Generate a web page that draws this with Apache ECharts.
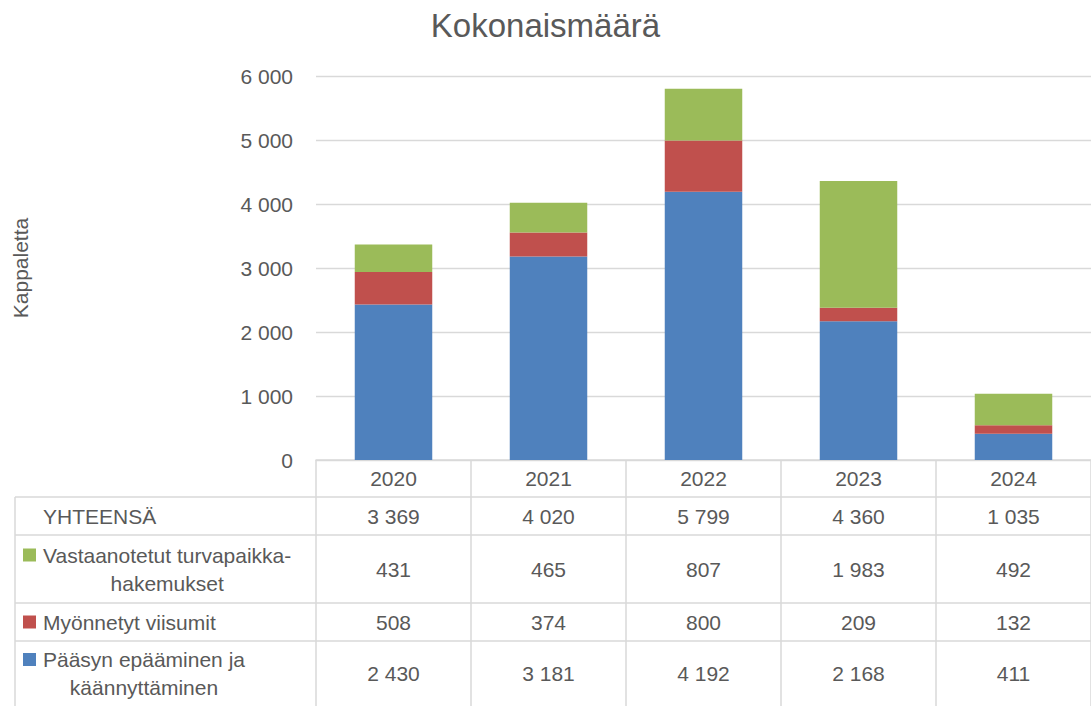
<!DOCTYPE html>
<html>
<head>
<meta charset="utf-8">
<script src="https://cdn.jsdelivr.net/npm/echarts@6/dist/echarts.min.js"></script>
<style>
  html, body { margin: 0; padding: 0; background: #fff; }
  #chart { width: 1091px; height: 706px; }
</style>
</head>
<body>
<div id="chart"></div>
<script>
const years = ['2020', '2021', '2022', '2023', '2024']
const paasyn = [2430, 3181, 4192, 2168, 411]
const viisumit = [508, 374, 800, 209, 132]
const turvapaikka = [431, 465, 807, 1983, 492]
const yhteensa = [3369, 4020, 5799, 4360, 1035]

const FONT = 'Liberation Sans'
const TXT = '#595959'
const LINE = '#d9d9d9'
const BLUE = '#4F81BD', RED = '#C0504D', GREEN = '#9BBB59'

const fmt = v => String(v).replace(/\B(?=(\d{3})+(?!\d))/g, ' ')

// table rows (top to bottom)
const rows = [
    { lines: ['YHTEENSÄ'], color: null, values: yhteensa, h: 38 },
    { lines: ['Vastaanotetut turvapaikka-', 'hakemukset'], color: GREEN, values: turvapaikka, h: 68 },
    { lines: ['Myönnetyt viisumit'], color: RED, values: viisumit, h: 38 },
    { lines: ['Pääsyn epääminen ja', 'käännyttäminen'], color: BLUE, values: paasyn, h: 65 },
]

const option = {
    animation: false,
    title: {
        text: 'Kokonaismäärä',
        left: 'center',
        top: 4,
        textStyle: { fontFamily: FONT, fontSize: 33, fontWeight: 'normal', color: TXT }
    },
    grid: { left: 316, right: 0, top: 76, bottom: 246, containLabel: false, outerBoundsMode: 'none' },
    xAxis: {
        type: 'category',
        data: years,
        axisTick: { show: false },
        axisLine: { lineStyle: { color: LINE, width: 1.5 } },
        axisLabel: { fontFamily: FONT, fontSize: 21, color: TXT, margin: 8 }
    },
    yAxis: {
        type: 'value',
        min: 0,
        max: 6000,
        interval: 1000,
        name: 'Kappaletta',
        nameLocation: 'middle',
        nameRotate: 90,
        nameGap: 285,
        nameTextStyle: { fontFamily: FONT, fontSize: 21, color: TXT },
        axisLabel: { fontFamily: FONT, fontSize: 21, color: TXT, margin: 23, formatter: fmt },
        splitLine: { lineStyle: { color: LINE, width: 1.3 } }
    },
    series: [
        { name: 'Pääsyn epääminen ja käännyttäminen', type: 'bar', stack: 'a', barWidth: '50%', itemStyle: { color: BLUE }, data: paasyn },
        { name: 'Myönnetyt viisumit', type: 'bar', stack: 'a', itemStyle: { color: RED }, data: viisumit },
        { name: 'Vastaanotetut turvapaikkahakemukset', type: 'bar', stack: 'a', itemStyle: { color: GREEN }, data: turvapaikka },
    ]
}

const chart = echarts.init(document.getElementById('chart'), null, { renderer: 'svg' })
chart.setOption(option)

// data table under the axis
const drawTable = () => {
    const ctx = document.createElement('canvas').getContext('2d')
    const font = '21px "' + FONT + '"'
    ctx.font = font
    const width = 1091
    const axisY = chart.convertToPixel({ yAxisIndex: 0 }, 0)
    const colW = chart.convertToPixel({ xAxisIndex: 0 }, 1) - chart.convertToPixel({ xAxisIndex: 0 }, 0)
    const left0 = chart.convertToPixel({ xAxisIndex: 0 }, 0) - colW / 2
    const tableLeft = 15
    const headerH = 37
    const els = []
    const hline = (x1, y, x2) => els.push({ type: 'line', shape: { x1, y1: y, x2, y2: y }, style: { stroke: LINE, lineWidth: 1.5 }, silent: true })
    const vline = (x, y1, y2) => els.push({ type: 'line', shape: { x1: x, y1, x2: x, y2 }, style: { stroke: LINE, lineWidth: 1.5 }, silent: true })

    let y = axisY + headerH
    const bottom = 706
    for (let i = 0; i <= years.length; i++) vline(left0 + i * colW, axisY, bottom)
    vline(tableLeft, y, bottom)
    rows.forEach(r => {
        hline(tableLeft, y, width)
        const cy = y + r.h / 2
        const textX = 43
        const widest = Math.max(...r.lines.map(l => ctx.measureText(l).width))
        const lh = 28
        r.lines.forEach((l, k) => {
            const ly = cy + (k - (r.lines.length - 1) / 2) * lh
            els.push({ type: 'text', x: textX + widest / 2, y: ly, silent: true,
                style: { text: l, fill: TXT, font, textAlign: 'center', textVerticalAlign: 'middle' } })
        })
        if (r.color) {
            const ky = cy - ((r.lines.length - 1) / 2) * lh
            els.push({ type: 'rect', shape: { x: 23, y: ky - 6.5, width: 13, height: 13 }, style: { fill: r.color }, silent: true })
        }
        r.values.forEach((v, j) => {
            els.push({ type: 'text', x: chart.convertToPixel({ xAxisIndex: 0 }, j), y: cy, silent: true,
                style: { text: fmt(v), fill: TXT, font, textAlign: 'center', textVerticalAlign: 'middle' } })
        })
        y += r.h
    })
    chart.setOption({ graphic: { elements: els } })
}
drawTable()
</script>
</body>
</html>
